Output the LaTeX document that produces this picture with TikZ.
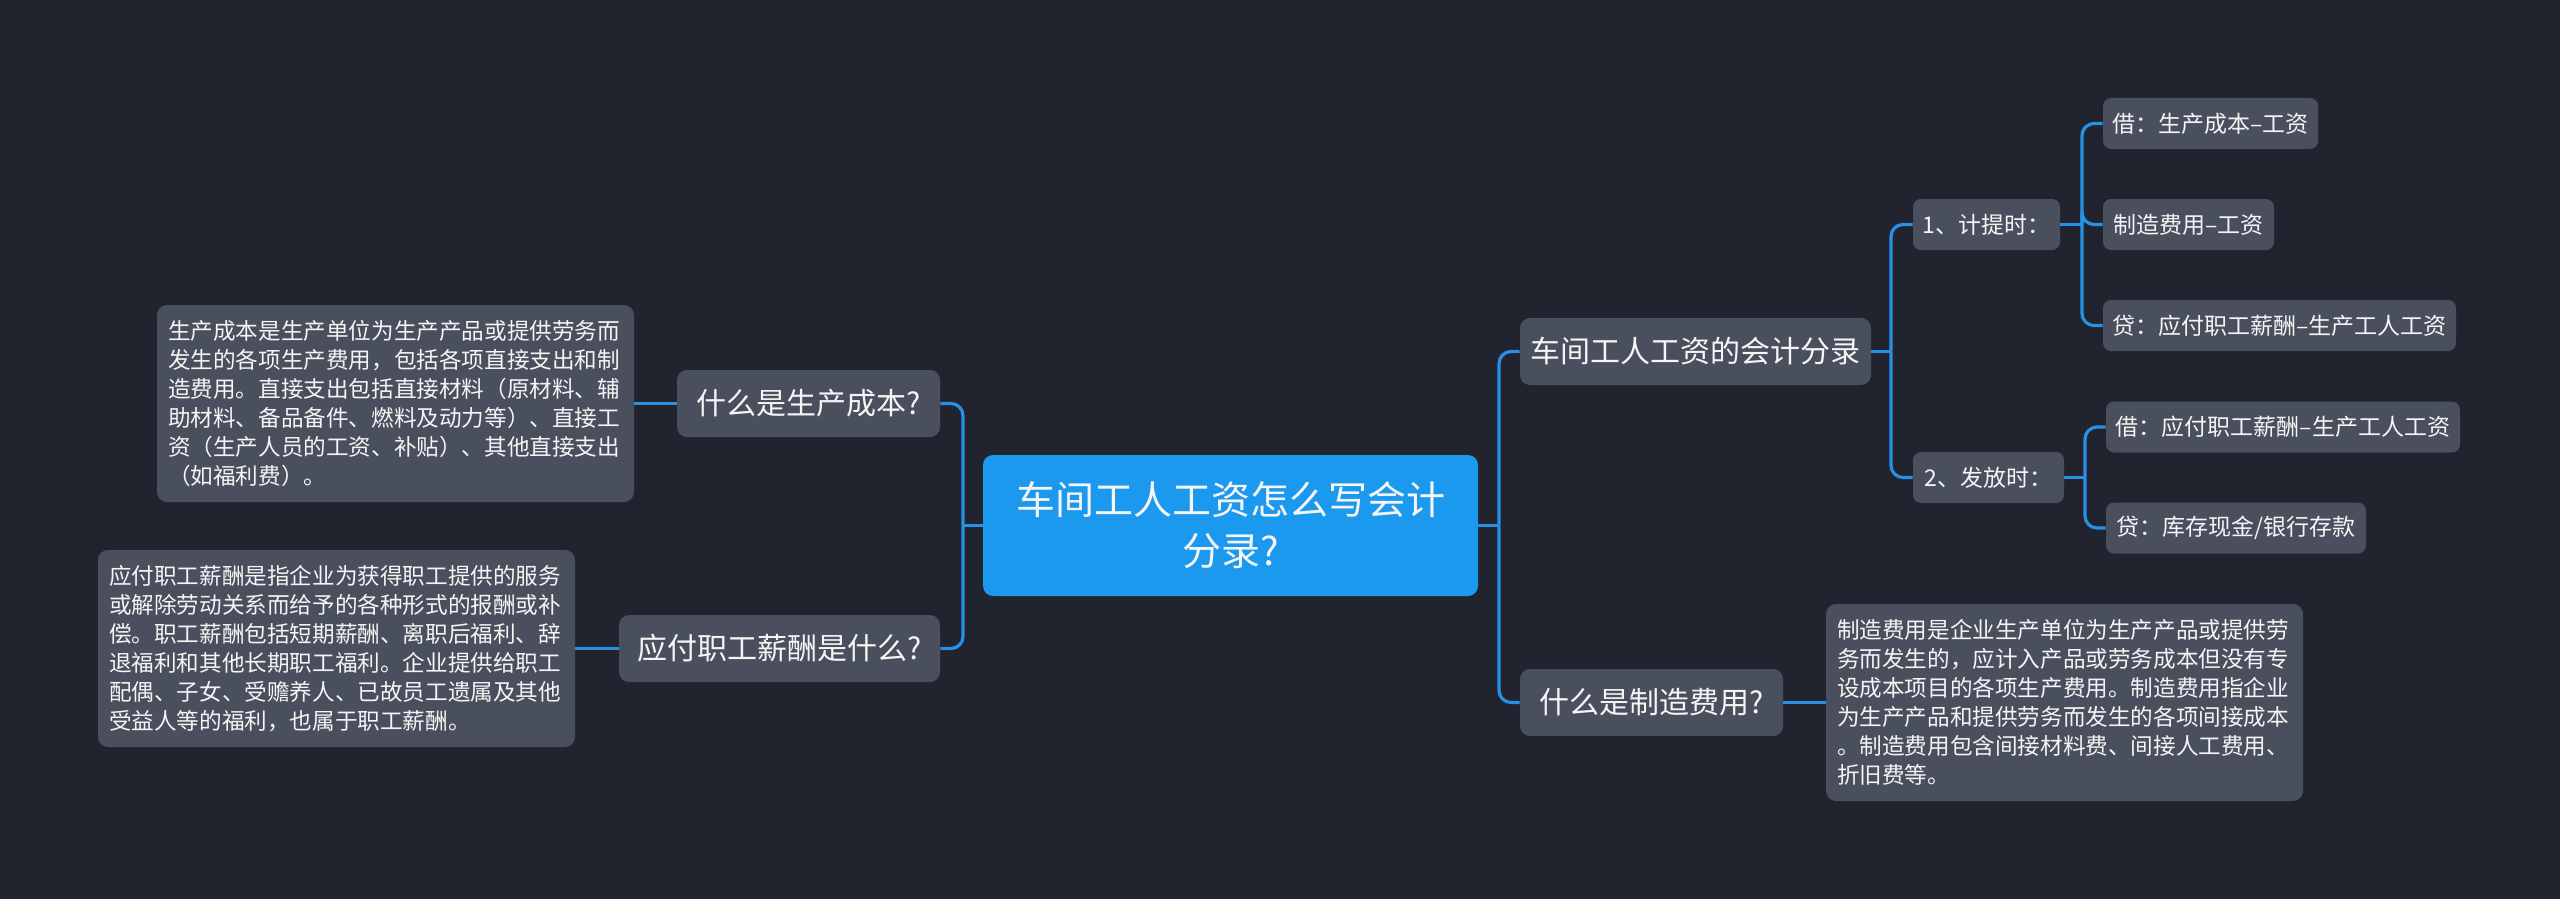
\documentclass[tikz,border=0pt]{standalone}
\usepackage{fontspec}
\setmainfont{Noto Sans CJK SC}
\definecolor{bgdark}{RGB}{33,36,47}
\definecolor{nodegray}{RGB}{74,79,94}
\definecolor{rootblue}{RGB}{26,153,239}
\definecolor{linkblue}{RGB}{40,145,230}
\definecolor{nodetext}{RGB}{245,245,245}

\begin{document}
\begin{tikzpicture}[x=0.5pt, y=-0.5pt,
    rootbox/.style={rectangle, rounded corners=5pt, fill=rootblue, text=nodetext, minimum height=70.5pt, inner sep=0pt, align=center, font=\fontsize{19.5}{25.5}\selectfont},
    topic/.style={rectangle, rounded corners=5pt, fill=nodegray, text=nodetext, minimum height=33.5pt, inner sep=0pt, font=\fontsize{15}{18}\selectfont},
    sub/.style={rectangle, rounded corners=4pt, fill=nodegray, text=nodetext, minimum height=25.5pt, inner sep=0pt, font=\fontsize{11.5}{14}\selectfont},
    note/.style={rectangle, rounded corners=5pt, fill=nodegray, text=nodetext, text width=227.5pt, inner xsep=5.5pt, inner ysep=0pt, minimum height=98.5pt, align=left, font=\fontsize{11.3}{14.5}\selectfont},
    link/.style={draw=linkblue, line width=1.6pt, rounded corners=6pt}]
            \fill[bgdark] (0,0) rectangle (2560,899);

            % centre and right side
            \node[rootbox, minimum width=247.5pt] (root) at (1230.5,525.5) {车间工人工资怎么写会计\\分录?};
            \node[topic, minimum width=175.5pt] (entry) at (1695.5,351.5) {车间工人工资的会计分录};
            \node[topic, minimum width=131.5pt] (mfq) at (1651.5,702.5) {什么是制造费用?};
            \node[note] (mftxt) at (2064.5,702.5) {制造费用是企业生产单位为生产产品或提供劳\\务而发生的，应计入产品或劳务成本但没有专\\设成本项目的各项生产费用。制造费用指企业\\为生产产品和提供劳务而发生的各项间接成本\\。制造费用包含间接材料费、间接人工费用、\\折旧费等。};
            \node[sub, minimum width=73.5pt] (accrue) at (1986.5,224.5) {1、计提时：};
            \node[sub, minimum width=75.5pt] (payout) at (1988.5,477.5) {2、发放时：};
            \node[sub, minimum width=107.5pt] (dr1) at (2210.5,123.5) {借：生产成本–工资};
            \node[sub, minimum width=85.5pt] (mfg) at (2188.5,224.5) {制造费用–工资};
            \node[sub, minimum width=176.5pt] (cr1) at (2279.5,325.5) {贷：应付职工薪酬–生产工人工资};
            \node[sub, minimum width=177pt] (dr2) at (2283,427) {借：应付职工薪酬–生产工人工资};
            \node[sub, minimum width=130pt] (cr2) at (2236,528) {贷：库存现金/银行存款};

            % left side
            \node[topic, minimum width=131.5pt] (costq) at (808.5,403.5) {什么是生产成本?};
            \node[note] (costtxt) at (395.5,403.5) {生产成本是生产单位为生产产品或提供劳务而\\发生的各项生产费用，包括各项直接支出和制\\造费用。直接支出包括直接材料（原材料、辅\\助材料、备品备件、燃料及动力等）、直接工\\资（生产人员的工资、补贴）、其他直接支出\\（如福利费）。};
            \node[topic, minimum width=160.5pt] (wageq) at (779.5,648.5) {应付职工薪酬是什么?};
            \node[note] (wagetxt) at (336.5,648.5) {应付职工薪酬是指企业为获得职工提供的服务\\或解除劳动关系而给予的各种形式的报酬或补\\偿。职工薪酬包括短期薪酬、离职后福利、辞\\退福利和其他长期职工福利。企业提供给职工\\配偶、子女、受赡养人、已故员工遗属及其他\\受益人等的福利，也属于职工薪酬。};

            \coordinate (rtrunk) at (1499,0 |- root.east);
            \coordinate (ltrunk) at (963,0 |- root.west);
            \coordinate (etrunk) at (1891,0 |- entry.east);
            \coordinate (atrunk) at (2082,0 |- accrue.east);
            \coordinate (ptrunk) at (2085,0 |- payout.east);

            \draw[link] (root.east) -- (rtrunk);
            \draw[link] (rtrunk) |- (entry.west);
            \draw[link] (rtrunk) |- (mfq.west);
            \draw[link] (mfq.east) -- (mftxt.west);
            \draw[link] (entry.east) -- (etrunk);
            \draw[link] (etrunk) |- (accrue.west);
            \draw[link] (etrunk) |- (payout.west);
            \draw[link] (accrue.east) -- (atrunk);
            \draw[link] (atrunk) |- (dr1.west);
            \draw[link] (atrunk) |- (mfg.west);
            \draw[link] (atrunk) |- (cr1.west);
            \draw[link] (payout.east) -- (ptrunk);
            \draw[link] (ptrunk) |- (dr2.west);
            \draw[link] (ptrunk) |- (cr2.west);
            \draw[link] (root.west) -- (ltrunk);
            \draw[link] (ltrunk) |- (costq.east);
            \draw[link] (ltrunk) |- (wageq.east);
            \draw[link] (costq.west) -- (costtxt.east);
            \draw[link] (wageq.west) -- (wagetxt.east);
        \end{tikzpicture}
\end{document}
